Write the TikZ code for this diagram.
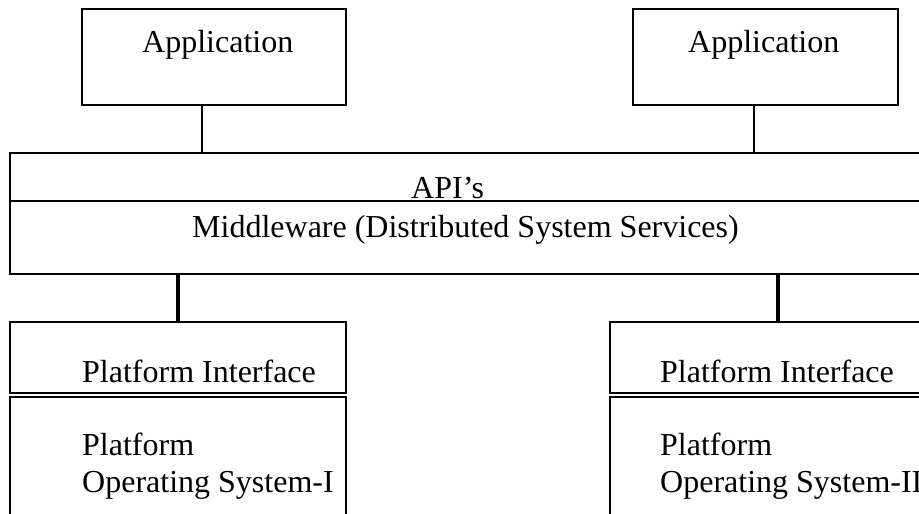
\documentclass[tikz,border=0pt]{standalone}
\usepackage{fontspec}
\setmainfont{Liberation Serif}
\begin{document}
\begin{tikzpicture}[x=1pt,y=-1pt,
  box/.style={draw,line width=1.3pt,rectangle,inner sep=0pt,minimum width=#1},
  label/.style={anchor=base west,inner sep=0pt,font=\fontsize{32}{38}\selectfont},
  thin link/.style={line width=1.3pt},
  thick link/.style={line width=3.4pt}]
\useasboundingbox (0,0) rectangle (919,514);
\clip (0,0) rectangle (919,514);

% applications
\node[box=264pt,minimum height=96pt] (app1) at (214,57) {};
\node[box=265pt,minimum height=96pt] (app2) at (765.5,57) {};

% middleware: API band and services band
\node[box=920pt,minimum height=48pt] (api) at (470,177) {};
\node[box=920pt,minimum height=73pt] (mw) at (470,237.5) {};

% platforms
\node[box=336pt,minimum height=71pt] (pi1) at (178,357.5) {};
\node[box=336pt,minimum height=150pt] (os1) at (178,472) {};
\node[box=336pt,minimum height=71pt] (pi2) at (778,357.5) {};
\node[box=336pt,minimum height=150pt] (os2) at (778,472) {};

% connectors
\draw[thin link] ([xshift=-12pt]app1.south) -- ([xshift=-12pt]app1.south |- api.north);
\draw[thin link] ([xshift=-11.5pt]app2.south) -- ([xshift=-11.5pt]app2.south |- api.north);
\draw[thick link] (pi1.north) -- (pi1.north |- mw.south);
\draw[thick link] (pi2.north) -- (pi2.north |- mw.south);

% texts
\node[label] (t1) at (142,52) {Application};
\node[label] (t2) at (688,52) {Application};
\node[label] (t3) at (411,198) {API’s};
\node[label] (t4) at (192,237) {Middleware (Distributed System Services)};
\node[label] (t5) at (82,382) {Platform Interface};
\node[label] (t6) at (660,382) {Platform Interface};
\node[label] (t7) at (82,455) {Platform};
\node[label] (t8) at (82,492) {Operating System-I};
\node[label] (t9) at (660,455) {Platform};
\node[label] (t10) at (660,492) {Operating System-II};
\end{tikzpicture}
\end{document}
